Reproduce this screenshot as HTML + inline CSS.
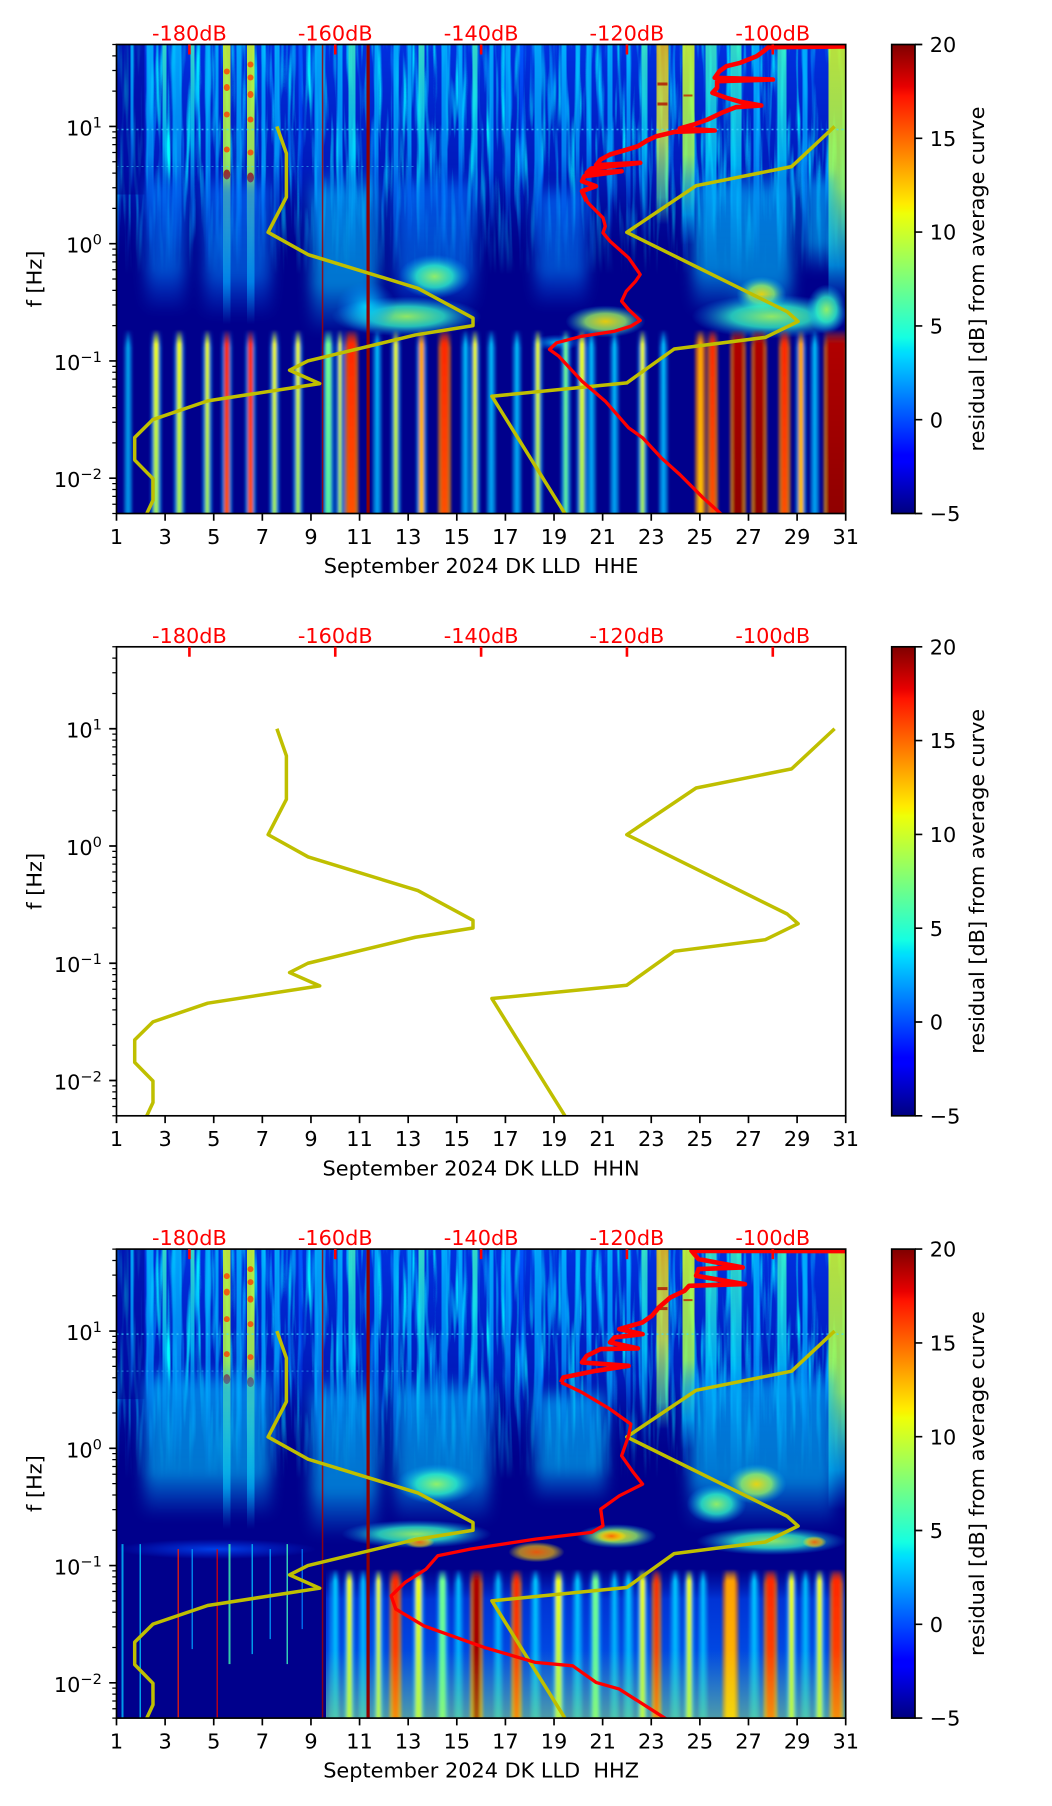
<!DOCTYPE html>
<html><head><meta charset="utf-8"><style>
html,body{margin:0;padding:0;background:#fff}
svg{display:block}
text{font-family:"DejaVu Sans","Liberation Sans",sans-serif;font-size:20.83px;fill:#000}
</style></head><body>
<svg width="1052" height="1806" viewBox="0 0 1052 1806" xmlns="http://www.w3.org/2000/svg">
<defs>
<clipPath id="cp"><rect x="0" y="0" width="729.2" height="469"/></clipPath>
<filter id="bl" x="-30%" y="-30%" width="160%" height="160%"><feGaussianBlur stdDeviation="7 5"/></filter>
<filter id="bl1" x="-5%" y="-5%" width="110%" height="110%"><feGaussianBlur stdDeviation="1.2 0.5"/></filter>
<filter id="nz" x="0" y="0" width="1" height="1">
<feTurbulence type="fractalNoise" baseFrequency="0.2 0.012" numOctaves="2" seed="7"/>
<feColorMatrix type="matrix" values="0 0 0 0 0  0 1.6 0 0 -0.15  0 0 0 0 1  3 0 0 0 -1.38"/>
</filter>
<linearGradient id="fadeW" x1="0" y1="0" x2="0" y2="1"><stop offset="0" stop-color="#fff"/><stop offset=".55" stop-color="#fff"/><stop offset="1" stop-color="#000"/></linearGradient>
<mask id="mTop" maskUnits="userSpaceOnUse" x="0" y="0" width="729.2" height="230"><rect width="729.2" height="230" fill="url(#fadeW)"/></mask>
<linearGradient id="jet" x1="0" y1="1" x2="0" y2="0">
<stop offset="0" stop-color="#000080"/><stop offset=".11" stop-color="#0000ff"/><stop offset=".125" stop-color="#0000ff"/><stop offset=".34" stop-color="#00dbff"/><stop offset=".35" stop-color="#00e5f7"/><stop offset=".375" stop-color="#15ffe2"/><stop offset=".64" stop-color="#efff08"/><stop offset=".65" stop-color="#f7f500"/><stop offset=".66" stop-color="#ffec00"/><stop offset=".89" stop-color="#ff1300"/><stop offset=".91" stop-color="#e80000"/><stop offset="1" stop-color="#800000"/>
</linearGradient>
<linearGradient id="tb" x1="0" y1="0" x2="0" y2="1"><stop offset="0" stop-color="#0030e0"/><stop offset=".6" stop-color="#0020c8" stop-opacity=".8"/><stop offset="1" stop-color="#0010a0" stop-opacity="0"/></linearGradient>
<linearGradient id="sC" x1="0" y1="0" x2="0" y2="1"><stop offset="0" stop-color="#00b8ff" stop-opacity=".85"/><stop offset=".55" stop-color="#00a0ff" stop-opacity=".75"/><stop offset="1" stop-color="#0060ff" stop-opacity="0"/></linearGradient>
<linearGradient id="sG" x1="0" y1="0" x2="0" y2="1"><stop offset="0" stop-color="#40ffc0" stop-opacity=".8"/><stop offset=".5" stop-color="#00d8ff" stop-opacity=".75"/><stop offset="1" stop-color="#0080ff" stop-opacity="0"/></linearGradient>
<linearGradient id="sY" x1="0" y1="0" x2="0" y2="1"><stop offset="0" stop-color="#d8ff20" stop-opacity=".85"/><stop offset=".55" stop-color="#a0ff58" stop-opacity=".85"/><stop offset=".85" stop-color="#00d0ff" stop-opacity=".6"/><stop offset="1" stop-color="#00a0ff" stop-opacity="0"/></linearGradient>
<linearGradient id="sO" x1="0" y1="0" x2="0" y2="1"><stop offset="0" stop-color="#ffc800" stop-opacity=".8"/><stop offset=".5" stop-color="#e8ff30" stop-opacity=".75"/><stop offset=".85" stop-color="#60ffa0" stop-opacity=".55"/><stop offset="1" stop-color="#40ffc0" stop-opacity="0"/></linearGradient>
<linearGradient id="sB" x1="0" y1="0" x2="0" y2="1"><stop offset="0" stop-color="#0058ff" stop-opacity=".9"/><stop offset="1" stop-color="#0040ff" stop-opacity="0"/></linearGradient>
<linearGradient id="pl" x1="0" y1="0" x2="0" y2="1"><stop offset="0" stop-color="#0060ff" stop-opacity="0"/><stop offset=".15" stop-color="#0070ff" stop-opacity=".65"/><stop offset=".7" stop-color="#0088ff" stop-opacity=".55"/><stop offset="1" stop-color="#0060ff" stop-opacity="0"/></linearGradient>
<linearGradient id="plC" x1="0" y1="0" x2="0" y2="1"><stop offset="0" stop-color="#00a0ff" stop-opacity="0"/><stop offset=".15" stop-color="#00b0ff" stop-opacity=".65"/><stop offset=".7" stop-color="#00c4ff" stop-opacity=".6"/><stop offset="1" stop-color="#00a0ff" stop-opacity="0"/></linearGradient>
<radialGradient id="rG"><stop offset="0" stop-color="#a0ff60" stop-opacity=".9"/><stop offset=".5" stop-color="#30ffc8" stop-opacity=".75"/><stop offset="1" stop-color="#00a0ff" stop-opacity="0"/></radialGradient>
<radialGradient id="rY"><stop offset="0" stop-color="#ffe000" stop-opacity=".9"/><stop offset=".5" stop-color="#a0ff60" stop-opacity=".75"/><stop offset="1" stop-color="#00c0ff" stop-opacity="0"/></radialGradient>
<radialGradient id="rC"><stop offset="0" stop-color="#00e0ff" stop-opacity=".85"/><stop offset="1" stop-color="#0080ff" stop-opacity="0"/></radialGradient>
<radialGradient id="rO"><stop offset="0" stop-color="#ff6000" stop-opacity=".9"/><stop offset=".6" stop-color="#ffc000" stop-opacity=".65"/><stop offset="1" stop-color="#ffff00" stop-opacity="0"/></radialGradient>
<radialGradient id="rB"><stop offset="0" stop-color="#0050ff" stop-opacity=".8"/><stop offset="1" stop-color="#0040ff" stop-opacity="0"/></radialGradient>
<linearGradient id="lC" x1="0" y1="0" x2="0" y2="1"><stop offset="0" stop-color="#00c8ff" stop-opacity="0"/><stop offset=".08" stop-color="#00c8ff"/><stop offset="1" stop-color="#00b0ff" stop-opacity=".85"/></linearGradient>
<linearGradient id="lY" x1="0" y1="0" x2="0" y2="1"><stop offset="0" stop-color="#e0ff20" stop-opacity="0"/><stop offset=".08" stop-color="#f0ff10"/><stop offset="1" stop-color="#b0ff50" stop-opacity=".9"/></linearGradient>
<linearGradient id="lG" x1="0" y1="0" x2="0" y2="1"><stop offset="0" stop-color="#60ff98" stop-opacity="0"/><stop offset=".08" stop-color="#70ff90"/><stop offset="1" stop-color="#60ffa0" stop-opacity=".9"/></linearGradient>
<linearGradient id="lO" x1="0" y1="0" x2="0" y2="1"><stop offset="0" stop-color="#ff9800" stop-opacity="0"/><stop offset=".08" stop-color="#ffa000"/><stop offset="1" stop-color="#ffc000"/></linearGradient>
<linearGradient id="lR" x1="0" y1="0" x2="0" y2="1"><stop offset="0" stop-color="#ff2000" stop-opacity="0"/><stop offset=".08" stop-color="#ff2800"/><stop offset="1" stop-color="#ff5000"/></linearGradient>
<linearGradient id="lD" x1="0" y1="0" x2="0" y2="1"><stop offset="0" stop-color="#b00000" stop-opacity="0"/><stop offset=".08" stop-color="#b00000"/><stop offset="1" stop-color="#900000"/></linearGradient>
<linearGradient id="lH" x1="0" y1="0" x2="0" y2="1"><stop offset="0" stop-color="#00a0ff" stop-opacity="0"/><stop offset=".1" stop-color="#00b0ff" stop-opacity=".5"/><stop offset="1" stop-color="#00c0ff" stop-opacity=".55"/></linearGradient>
<linearGradient id="lHo" x1="0" y1="0" x2="0" y2="1"><stop offset="0" stop-color="#ff8000" stop-opacity="0"/><stop offset=".1" stop-color="#ff7000" stop-opacity=".65"/><stop offset="1" stop-color="#ffa000" stop-opacity=".65"/></linearGradient>
<linearGradient id="lr3" x1="0" y1="0" x2="0" y2="1"><stop offset="0" stop-color="#0030d0" stop-opacity="0"/><stop offset=".2" stop-color="#0040e8" stop-opacity=".8"/><stop offset="1" stop-color="#0070ff" stop-opacity=".9"/></linearGradient>
<linearGradient id="bot" x1="0" y1="0" x2="0" y2="1"><stop offset="0" stop-color="#c0ff40" stop-opacity="0"/><stop offset="1" stop-color="#e0ff20" stop-opacity=".35"/></linearGradient>

<g id="tst">
<rect x="0" y="0" width="729.2" height="210" fill="url(#tb)"/>
<g mask="url(#mTop)"><rect x="0" y="0" width="729.2" height="230" fill="#000" filter="url(#nz)"/></g>
<rect x="0" y="0" width="28" height="150" fill="#000090" opacity=".55"/>
<rect x="14" y="0" width="3" height="150" fill="url(#sC)"/>
<rect x="30" y="0" width="7" height="200" fill="url(#sC)"/>
<rect x="46" y="0" width="4" height="200" fill="url(#sG)"/>
<rect x="56" y="0" width="9" height="210" fill="url(#sC)"/>
<rect x="74" y="0" width="4" height="200" fill="url(#sG)"/>
<rect x="89" y="0" width="5" height="230" fill="url(#sC)"/>
<rect x="99" y="0" width="3" height="200" fill="url(#sC)"/>
<rect x="106.5" y="0" width="7.5" height="280" fill="url(#sY)"/>
<rect x="120" y="0" width="5" height="220" fill="url(#sC)"/>
<rect x="130.5" y="0" width="7.5" height="280" fill="url(#sY)"/>
<rect x="145" y="0" width="4" height="200" fill="url(#sC)"/>
<rect x="158" y="0" width="5" height="200" fill="url(#sC)"/>
<rect x="182" y="0" width="4" height="180" fill="url(#sB)"/>
<rect x="198" y="0" width="9" height="210" fill="url(#sC)"/>
<rect x="221" y="0" width="5" height="200" fill="url(#sC)"/>
<rect x="232" y="0" width="7" height="220" fill="url(#sG)"/>
<rect x="258" y="0" width="4" height="200" fill="url(#sC)"/>
<rect x="277" y="0" width="5" height="220" fill="url(#sC)"/>
<rect x="291" y="0" width="4" height="200" fill="url(#sC)"/>
<rect x="302" y="0" width="6" height="210" fill="url(#sG)"/>
<rect x="325" y="0" width="6" height="200" fill="url(#sC)"/>
<rect x="342" y="0" width="4" height="190" fill="url(#sC)"/>
<rect x="356" y="0" width="5" height="200" fill="url(#sG)"/>
<rect x="373" y="0" width="4" height="190" fill="url(#sC)"/>
<rect x="389" y="0" width="5" height="190" fill="url(#sC)"/>
<rect x="403" y="0" width="4" height="180" fill="url(#sB)"/>
<rect x="418" y="0" width="7" height="210" fill="url(#sC)"/>
<rect x="445" y="0" width="5" height="200" fill="url(#sC)"/>
<rect x="459" y="0" width="4" height="190" fill="url(#sC)"/>
<rect x="470" y="0" width="5" height="190" fill="url(#sC)"/>
<rect x="491" y="0" width="5" height="190" fill="url(#sC)"/>
<rect x="510" y="0" width="4" height="190" fill="url(#sC)"/>
<rect x="525" y="0" width="6" height="200" fill="url(#sG)"/>
<rect x="540" y="0" width="12" height="180" fill="url(#sO)"/>
<rect x="566" y="0" width="12" height="200" fill="url(#sY)"/>
<rect x="589" y="0" width="11" height="230" fill="url(#sG)"/>
<rect x="614" y="0" width="11" height="240" fill="url(#sG)"/>
<rect x="637" y="0" width="6" height="220" fill="url(#sC)"/>
<rect x="661" y="0" width="9" height="230" fill="url(#sG)"/>
<rect x="686" y="0" width="5" height="210" fill="url(#sC)"/>
<rect x="712" y="0" width="17.2" height="260" fill="url(#sY)"/>
<g fill="#ff4000" opacity=".8">
<ellipse cx="110.3" cy="27" rx="3" ry="3"/><ellipse cx="110.3" cy="43" rx="3" ry="3.5"/><ellipse cx="110.3" cy="70" rx="3" ry="3"/><ellipse cx="110.3" cy="105" rx="3" ry="3"/><ellipse cx="110.3" cy="130" rx="3.5" ry="5" fill="#b00000"/>
<ellipse cx="134" cy="20" rx="3" ry="3"/><ellipse cx="134" cy="33" rx="3" ry="3"/><ellipse cx="134" cy="50" rx="3" ry="3.5"/><ellipse cx="134" cy="75" rx="3" ry="3"/><ellipse cx="134" cy="108" rx="3" ry="3"/><ellipse cx="134" cy="133" rx="3.5" ry="5" fill="#b00000"/>
<rect x="541" y="38" width="10" height="3" fill="#b01000"/><rect x="541" y="58" width="10" height="3" fill="#b01000"/><rect x="567" y="50" width="9" height="2" fill="#c02000"/>
</g>
<line x1="0" y1="85" x2="729.2" y2="85" stroke="#40e0ff" stroke-width="1.5" stroke-dasharray="2 3" opacity=".7"/>
<line x1="0" y1="122" x2="300" y2="122" stroke="#40e0ff" stroke-width="1" stroke-dasharray="2 3" opacity=".5"/>
</g>

<g id="axdec">
<rect x="0" y="0" width="729.2" height="469" fill="none" stroke="#000" stroke-width="1.67"/>
<path d="M0,81.95h-7.3M0,199.2h-7.3M0,316.45h-7.3M0,433.7h-7.3" stroke="#000" stroke-width="1.67"/>
<path d="M0,0h-4.2M0,11.36h-4.2M0,26.01h-4.2M0,46.65h-4.2M0,87.32h-4.2M0,93.31h-4.2M0,100.11h-4.2M0,107.96h-4.2M0,117.25h-4.2M0,128.61h-4.2M0,143.26h-4.2M0,163.9h-4.2M0,204.57h-4.2M0,210.56h-4.2M0,217.36h-4.2M0,225.21h-4.2M0,234.5h-4.2M0,245.86h-4.2M0,260.51h-4.2M0,281.15h-4.2M0,321.82h-4.2M0,327.81h-4.2M0,334.61h-4.2M0,342.46h-4.2M0,351.75h-4.2M0,363.11h-4.2M0,377.76h-4.2M0,398.4h-4.2M0,439.07h-4.2M0,445.06h-4.2M0,451.86h-4.2M0,459.71h-4.2M0,469h-4.2" stroke="#000" stroke-width="1.25"/>
<path d="M0,469v7.3M48.61,469v7.3M97.23,469v7.3M145.84,469v7.3M194.46,469v7.3M243.07,469v7.3M291.68,469v7.3M340.3,469v7.3M388.91,469v7.3M437.53,469v7.3M486.14,469v7.3M534.75,469v7.3M583.37,469v7.3M631.98,469v7.3M680.6,469v7.3M729.2,469v7.3" stroke="#000" stroke-width="1.67"/>
<g text-anchor="middle">
<text x="0" y="499.3">1</text><text x="48.61" y="499.3">3</text><text x="97.23" y="499.3">5</text><text x="145.84" y="499.3">7</text><text x="194.46" y="499.3">9</text><text x="243.07" y="499.3">11</text><text x="291.68" y="499.3">13</text><text x="340.3" y="499.3">15</text><text x="388.91" y="499.3">17</text><text x="437.53" y="499.3">19</text><text x="486.14" y="499.3">21</text><text x="534.75" y="499.3">23</text><text x="583.37" y="499.3">25</text><text x="631.98" y="499.3">27</text><text x="680.6" y="499.3">29</text><text x="729.2" y="499.3">31</text>
</g>
<g text-anchor="end">
<text x="-14.6" y="90.95">10<tspan dy="-8" font-size="14.6">1</tspan></text>
<text x="-14.6" y="208.2">10<tspan dy="-8" font-size="14.6">0</tspan></text>
<text x="-14.6" y="325.45">10<tspan dy="-8" font-size="14.6">−1</tspan></text>
<text x="-14.6" y="442.7">10<tspan dy="-8" font-size="14.6">−2</tspan></text>
</g>
<text transform="translate(-75.2,234.5) rotate(-90)" text-anchor="middle">f [Hz]</text>
<path d="M72.92,0v10M218.76,0v10M364.6,0v10M510.45,0v10M656.29,0v10" stroke="#ff0000" stroke-width="2.6"/>
<g text-anchor="middle">
<text x="72.92" y="-4" style="fill:#ff0000">-180dB</text><text x="218.76" y="-4" style="fill:#ff0000">-160dB</text><text x="364.6" y="-4" style="fill:#ff0000">-140dB</text><text x="510.45" y="-4" style="fill:#ff0000">-120dB</text><text x="656.29" y="-4" style="fill:#ff0000">-100dB</text>
</g>
<rect x="775.2" y="0" width="23.3" height="469" fill="url(#jet)" stroke="#000" stroke-width="1.67"/>
<path d="M798.5,0h7.3M798.5,93.8h7.3M798.5,187.6h7.3M798.5,281.4h7.3M798.5,375.2h7.3M798.5,469h7.3" stroke="#000" stroke-width="1.67"/>
<text x="813.2" y="7.6">20</text><text x="813.2" y="101.4">15</text><text x="813.2" y="195.2">10</text><text x="813.2" y="289">5</text><text x="813.2" y="382.8">0</text><text x="813.2" y="476.6">−5</text>
<text transform="translate(867.5,234.5) rotate(-90)" text-anchor="middle">residual [dB] from average curve</text>
</g>

<g id="nm" fill="none" stroke="#bfbf00" stroke-width="3.5" stroke-linejoin="round">
<polyline points="160.4,81.95 169.9,108.97 169.9,152.55 151.6,187.84 191.7,210.15 301.4,243.79 356.5,273.48 356.5,281.16 298.9,290.44 191.4,316.45 173.1,325.74 203.2,339.1 91.2,356.37 36.45,375.05 18.2,393.04 18.2,415.54 36.45,434.21 36.5,455.7 30.3,469"/>
<polyline points="718.1,81.95 675.1,122.1 579.6,141.2 510.3,187.84 670.7,267.2 681.6,276.9 648.8,292.9 557.7,304.5 510.3,338.4 375.4,351.75 448.4,469"/>
</g>
</defs>

<!-- PANEL 1 -->
<g transform="translate(116.5,44.5)">
<g clip-path="url(#cp)">
<rect width="729.2" height="469" fill="#00008c"/>
<use href="#tst"/>
<g filter="url(#bl)">
<rect x="30" y="125" width="38" height="145" fill="url(#pl)"/>
<rect x="88" y="125" width="66" height="150" fill="url(#pl)"/>
<rect x="195" y="125" width="66" height="165" fill="url(#plC)"/>
<rect x="279" y="125" width="79" height="145" fill="url(#pl)"/>
<rect x="419" y="135" width="51" height="130" fill="url(#pl)"/>
<rect x="577" y="125" width="42" height="145" fill="url(#plC)"/>
<rect x="619" y="125" width="56" height="155" fill="url(#plC)"/>
<rect x="689" y="125" width="28" height="105" fill="url(#plC)"/>
</g>
<ellipse cx="318" cy="232" rx="36" ry="22" fill="url(#rG)"/>
<ellipse cx="645" cy="250" rx="25" ry="18" fill="url(#rY)"/>
<ellipse cx="290" cy="272" rx="75" ry="20" fill="url(#rG)"/>
<ellipse cx="250" cy="262" rx="30" ry="25" fill="url(#rC)"/>
<ellipse cx="489" cy="277" rx="40" ry="16" fill="url(#rY)"/>
<ellipse cx="440" cy="298" rx="25" ry="8" fill="url(#rC)"/>
<ellipse cx="655" cy="272" rx="80" ry="22" fill="url(#rG)"/>
<ellipse cx="710" cy="265" rx="20" ry="25" fill="url(#rG)"/>
<g filter="url(#bl1)">
<rect x="7.6" y="285" width="8" height="184" fill="url(#lH)"/><rect x="10.6" y="285" width="2" height="184" fill="url(#lC)"/>
<rect x="34.1" y="285" width="11" height="184" fill="url(#lH)"/><rect x="37.1" y="285" width="5" height="184" fill="url(#lY)"/>
<rect x="57.3" y="285" width="11" height="184" fill="url(#lH)"/><rect x="60.3" y="285" width="5" height="184" fill="url(#lY)"/>
<rect x="85.8" y="285" width="10" height="184" fill="url(#lH)"/><rect x="88.8" y="285" width="4" height="184" fill="url(#lY)"/>
<rect x="104.8" y="285" width="11" height="184" fill="url(#lH)"/><rect x="107.8" y="285" width="5" height="184" fill="url(#lR)"/>
<rect x="128.5" y="285" width="11" height="184" fill="url(#lH)"/><rect x="131.5" y="285" width="5" height="184" fill="url(#lR)"/>
<rect x="153" y="285" width="10" height="184" fill="url(#lH)"/><rect x="156" y="285" width="4" height="184" fill="url(#lY)"/>
<rect x="176.5" y="285" width="10" height="184" fill="url(#lH)"/><rect x="179.5" y="285" width="4" height="184" fill="url(#lY)"/>
<rect x="205.8" y="285" width="12" height="184" fill="url(#lH)"/><rect x="208.8" y="285" width="6" height="184" fill="url(#lG)"/>
<rect x="219" y="285" width="9" height="184" fill="url(#lH)"/><rect x="222" y="285" width="3" height="184" fill="url(#lY)"/>
<rect x="228" y="285" width="14" height="184" fill="url(#lHo)"/><rect x="231" y="285" width="8" height="184" fill="url(#lR)"/>
<rect x="256.2" y="285" width="9" height="184" fill="url(#lH)"/><rect x="259.2" y="285" width="3" height="184" fill="url(#lC)"/>
<rect x="274.3" y="285" width="10" height="184" fill="url(#lH)"/><rect x="277.3" y="285" width="4" height="184" fill="url(#lY)"/>
<rect x="299.5" y="285" width="11" height="184" fill="url(#lH)"/><rect x="302.5" y="285" width="5" height="184" fill="url(#lO)"/>
<rect x="321.5" y="285" width="13" height="184" fill="url(#lHo)"/><rect x="324.5" y="285" width="7" height="184" fill="url(#lR)"/>
<rect x="344.5" y="285" width="9" height="184" fill="url(#lH)"/><rect x="347.5" y="285" width="3" height="184" fill="url(#lC)"/>
<rect x="353.5" y="285" width="10" height="184" fill="url(#lH)"/><rect x="356.5" y="285" width="4" height="184" fill="url(#lY)"/>
<rect x="370.3" y="285" width="9" height="184" fill="url(#lH)"/><rect x="373.3" y="285" width="3" height="184" fill="url(#lC)"/>
<rect x="395.9" y="285" width="9" height="184" fill="url(#lH)"/><rect x="398.9" y="285" width="3" height="184" fill="url(#lC)"/>
<rect x="416.3" y="285" width="10" height="184" fill="url(#lH)"/><rect x="419.3" y="285" width="4" height="184" fill="url(#lY)"/>
<rect x="444.3" y="285" width="10" height="184" fill="url(#lH)"/><rect x="447.3" y="285" width="4" height="184" fill="url(#lG)"/>
<rect x="460" y="285" width="11" height="184" fill="url(#lH)"/><rect x="463" y="285" width="5" height="184" fill="url(#lY)"/>
<rect x="470.4" y="285" width="9" height="184" fill="url(#lH)"/><rect x="473.4" y="285" width="3" height="184" fill="url(#lC)"/>
<rect x="493.5" y="285" width="9" height="184" fill="url(#lH)"/><rect x="496.5" y="285" width="3" height="184" fill="url(#lC)"/>
<rect x="521" y="285" width="10" height="184" fill="url(#lH)"/><rect x="524" y="285" width="4" height="184" fill="url(#lY)"/>
<rect x="542.5" y="285" width="9" height="184" fill="url(#lH)"/><rect x="545.5" y="285" width="3" height="184" fill="url(#lC)"/>
<rect x="578.5" y="285" width="11" height="184" fill="url(#lHo)"/><rect x="581.5" y="285" width="5" height="184" fill="url(#lO)"/>
<rect x="590.5" y="285" width="11" height="184" fill="url(#lHo)"/><rect x="593.5" y="285" width="5" height="184" fill="url(#lR)"/>
<rect x="613.5" y="285" width="16" height="184" fill="url(#lHo)"/><rect x="616.5" y="285" width="10" height="184" fill="url(#lD)"/>
<rect x="634.5" y="285" width="16" height="184" fill="url(#lHo)"/><rect x="637.5" y="285" width="10" height="184" fill="url(#lD)"/>
<rect x="662" y="285" width="12" height="184" fill="url(#lHo)"/><rect x="665" y="285" width="6" height="184" fill="url(#lR)"/>
<rect x="678.9" y="285" width="11" height="184" fill="url(#lH)"/><rect x="681.9" y="285" width="5" height="184" fill="url(#lO)"/>
<rect x="693.8" y="285" width="9" height="184" fill="url(#lH)"/><rect x="696.8" y="285" width="3" height="184" fill="url(#lC)"/>
<rect x="707" y="285" width="23" height="184" fill="url(#lHo)"/><rect x="710" y="285" width="19.3" height="184" fill="url(#lD)"/>
</g>
<rect x="250" y="0" width="3.2" height="469" fill="#900000"/>
<rect x="205.3" y="0" width="1.5" height="469" fill="#a00000" opacity=".85"/>
<use href="#nm"/>
<g fill="none" stroke="#ff0000" stroke-linejoin="round">
<polyline stroke-width="4.6" points="730,2 651.8,2.7 647.1,6.7 640.1,11.7 623.8,18.3 609.9,21.7 602.9,26.7 598.2,33.3 656.4,35 600.6,36.7 600.6,43.3 595.9,48.3 609.9,53.3 623.8,57.3 644.8,61 619.2,62.7 605.2,68.3 591.2,75 577.3,80 563.3,84 598.2,86 558.7,87.3 540,91.7 530.7,96 521.4,101.7 507.4,106 493.5,110 484.2,115 479.5,120.7 523.7,118.3 474.9,124 470.2,128.3 505.1,126.7 467.9,131.7 465.5,136.7 479.5,141.7 465.5,146.7 470.2,156.7"/>
<polyline stroke-width="3.3" points="470.2,156.7 474.9,161.7 486.5,173.3 488.8,181.7 486.5,188.3 493.5,196.7 502.8,205 512.1,213.3 516.8,220 523.7,230 519.1,236.7 509.8,246.7 505.1,256.7 512.1,265 523.7,276 514.4,281.7 498.1,286.7 465.5,291.7 440,298.3 433,305 442.3,311.7 465.5,336.7 488.8,356.7 512.1,383.3 526.1,393.3 544.7,413.3 563.3,430 586.6,453.3 605.2,470"/>
</g>
</g>
<use href="#axdec"/>
<text x="364.6" y="528.5" text-anchor="middle" style="white-space:pre">September 2024 DK LLD  HHE</text>
</g>

<!-- PANEL 2 -->
<g transform="translate(116.5,646.8)">
<g clip-path="url(#cp)">
<rect width="729.2" height="469" fill="#fff"/>
<use href="#nm"/>
</g>
<use href="#axdec"/>
<text x="364.6" y="528.5" text-anchor="middle" style="white-space:pre">September 2024 DK LLD  HHN</text>
</g>

<!-- PANEL 3 -->
<g transform="translate(116.5,1249.1)">
<g clip-path="url(#cp)">
<rect width="729.2" height="469" fill="#00008c"/>
<use href="#tst"/>
<g filter="url(#bl)">
<rect x="28" y="115" width="126" height="155" fill="url(#plC)"/>
<rect x="195" y="125" width="66" height="165" fill="url(#plC)"/>
<rect x="279" y="125" width="93" height="150" fill="url(#plC)"/>
<rect x="419" y="135" width="70" height="120" fill="url(#plC)"/>
<rect x="573" y="115" width="144" height="165" fill="url(#plC)"/>
</g>
<ellipse cx="320" cy="235" rx="40" ry="20" fill="url(#rG)"/>
<ellipse cx="640" cy="235" rx="30" ry="20" fill="url(#rY)"/>
<ellipse cx="600" cy="255" rx="30" ry="20" fill="url(#rG)"/>
<ellipse cx="100" cy="300" rx="100" ry="10" fill="url(#rB)"/>
<rect x="209.5" y="320" width="519.7" height="149" fill="url(#lr3)"/>
<ellipse cx="300" cy="285" rx="75" ry="14" fill="url(#rG)"/>
<ellipse cx="303" cy="293" rx="15" ry="6" fill="url(#rO)"/>
<ellipse cx="420" cy="303" rx="28" ry="10" fill="url(#rO)"/>
<ellipse cx="500" cy="287" rx="40" ry="12" fill="url(#rY)"/>
<ellipse cx="495" cy="287" rx="15" ry="6" fill="url(#rO)"/>
<ellipse cx="655" cy="292" rx="75" ry="14" fill="url(#rG)"/>
<ellipse cx="698" cy="293" rx="12" ry="6" fill="url(#rO)"/>
<g>
<rect x="5" y="295" width="2" height="174" fill="#00c0ff" opacity=".8"/>
<rect x="23" y="295" width="1.5" height="174" fill="#00c8ff" opacity=".8"/>
<rect x="61" y="300" width="1.5" height="169" fill="#ff2000" opacity=".8"/>
<rect x="75" y="300" width="1.5" height="100" fill="#00a0ff" opacity=".8"/>
<rect x="100" y="300" width="1.5" height="169" fill="#e00000" opacity=".8"/>
<rect x="112" y="295" width="2" height="120" fill="#40ffb0" opacity=".8"/>
<rect x="135" y="295" width="1.5" height="110" fill="#00c0ff" opacity=".8"/>
<rect x="153" y="300" width="1.5" height="90" fill="#00a0ff" opacity=".8"/>
<rect x="170" y="295" width="1.5" height="120" fill="#40ffc0" opacity=".8"/>
<rect x="185" y="300" width="1.5" height="80" fill="#0080ff" opacity=".8"/>
</g>
<g filter="url(#bl1)">
<rect x="212.8" y="320" width="10" height="149" fill="url(#lH)"/><rect x="216.8" y="320" width="4" height="149" fill="url(#lC)"/>
<rect x="227.3" y="320" width="11" height="149" fill="url(#lH)"/><rect x="230.3" y="320" width="5" height="149" fill="url(#lY)"/>
<rect x="242.2" y="320" width="9" height="149" fill="url(#lH)"/><rect x="245.2" y="320" width="3" height="149" fill="url(#lC)"/>
<rect x="257" y="320" width="10" height="149" fill="url(#lH)"/><rect x="260" y="320" width="4" height="149" fill="url(#lY)"/>
<rect x="273" y="320" width="12" height="149" fill="url(#lHo)"/><rect x="276" y="320" width="6" height="149" fill="url(#lR)"/>
<rect x="296" y="320" width="12" height="149" fill="url(#lH)"/><rect x="299" y="320" width="6" height="149" fill="url(#lY)"/>
<rect x="320" y="320" width="12" height="149" fill="url(#lH)"/><rect x="323" y="320" width="6" height="149" fill="url(#lG)"/>
<rect x="337.5" y="320" width="9" height="149" fill="url(#lH)"/><rect x="340.5" y="320" width="3" height="149" fill="url(#lC)"/>
<rect x="353.5" y="320" width="13" height="149" fill="url(#lHo)"/><rect x="356.5" y="320" width="7" height="149" fill="url(#lD)"/>
<rect x="377.2" y="320" width="9" height="149" fill="url(#lH)"/><rect x="380.2" y="320" width="3" height="149" fill="url(#lC)"/>
<rect x="394.5" y="320" width="11" height="149" fill="url(#lHo)"/><rect x="397.5" y="320" width="5" height="149" fill="url(#lR)"/>
<rect x="414" y="320" width="10" height="149" fill="url(#lH)"/><rect x="417" y="320" width="4" height="149" fill="url(#lC)"/>
<rect x="436" y="320" width="12" height="149" fill="url(#lH)"/><rect x="439" y="320" width="6" height="149" fill="url(#lY)"/>
<rect x="456" y="320" width="10" height="149" fill="url(#lH)"/><rect x="459" y="320" width="4" height="149" fill="url(#lC)"/>
<rect x="473" y="320" width="12" height="149" fill="url(#lH)"/><rect x="476" y="320" width="6" height="149" fill="url(#lG)"/>
<rect x="493.5" y="320" width="9" height="149" fill="url(#lH)"/><rect x="496.5" y="320" width="3" height="149" fill="url(#lC)"/>
<rect x="507" y="320" width="10" height="149" fill="url(#lH)"/><rect x="510" y="320" width="4" height="149" fill="url(#lC)"/>
<rect x="520.5" y="320" width="11" height="149" fill="url(#lH)"/><rect x="523.5" y="320" width="5" height="149" fill="url(#lY)"/>
<rect x="535" y="320" width="10" height="149" fill="url(#lHo)"/><rect x="538" y="320" width="4" height="149" fill="url(#lR)"/>
<rect x="553.7" y="320" width="10" height="149" fill="url(#lH)"/><rect x="556.7" y="320" width="4" height="149" fill="url(#lC)"/>
<rect x="567.1" y="320" width="11" height="149" fill="url(#lH)"/><rect x="570.1" y="320" width="5" height="149" fill="url(#lY)"/>
<rect x="582.1" y="320" width="9" height="149" fill="url(#lH)"/><rect x="585.1" y="320" width="3" height="149" fill="url(#lC)"/>
<rect x="606" y="320" width="16" height="149" fill="url(#lHo)"/><rect x="609" y="320" width="10" height="149" fill="url(#lO)"/>
<rect x="632.8" y="320" width="10" height="149" fill="url(#lH)"/><rect x="635.8" y="320" width="4" height="149" fill="url(#lC)"/>
<rect x="647" y="320" width="14" height="149" fill="url(#lHo)"/><rect x="650" y="320" width="8" height="149" fill="url(#lR)"/>
<rect x="669.5" y="320" width="11" height="149" fill="url(#lH)"/><rect x="672.5" y="320" width="5" height="149" fill="url(#lY)"/>
<rect x="684.5" y="320" width="9" height="149" fill="url(#lH)"/><rect x="687.5" y="320" width="3" height="149" fill="url(#lC)"/>
<rect x="697.5" y="320" width="11" height="149" fill="url(#lH)"/><rect x="700.5" y="320" width="5" height="149" fill="url(#lY)"/>
<rect x="713" y="320" width="14" height="149" fill="url(#lHo)"/><rect x="716" y="320" width="8" height="149" fill="url(#lR)"/>
</g>
<rect x="209.5" y="400" width="519.7" height="69" fill="url(#bot)"/>
<rect x="250" y="0" width="3.2" height="469" fill="#900000"/>
<rect x="205.3" y="0" width="1.5" height="469" fill="#a00000" opacity=".85"/>
<use href="#nm"/>
<g fill="none" stroke="#ff0000" stroke-linejoin="round">
<polyline stroke-width="4.6" points="730,2 575,1.7 582,10 626.2,18.3 582,20 579.6,26.7 628.5,35 572.6,36.7 568,41.7 554,48.3 542.4,58.3 535.4,66.7 526.1,73.3 502.8,80 526.1,85 498.1,88.3 493.5,93.3 521.4,99.3 484.2,100 470.2,106.7 465.5,113.3 512.1,116.7 479.5,121.7 446.9,128.3 444.6,133.3"/>
<polyline stroke-width="3.3" points="444.6,133.3 465.5,143.3 493.5,160 514.4,175 512.1,186.7 505.1,206.7 516.8,223.3 526.1,235 502.8,246.7 484.2,260 486.5,276.7 474.9,283.3 419,290 353.8,300 321.2,306.7 309.6,320 288.6,333.3 274.7,346.7 279.3,360 307.3,376.7 335.2,386.7 367.8,398.3 419,413.3 456.2,416.7 479.5,433.3 502.8,440 544.7,466.7 550,470"/>
</g>
</g>
<use href="#axdec"/>
<text x="364.6" y="528.5" text-anchor="middle" style="white-space:pre">September 2024 DK LLD  HHZ</text>
</g>
</svg>
</body></html>
